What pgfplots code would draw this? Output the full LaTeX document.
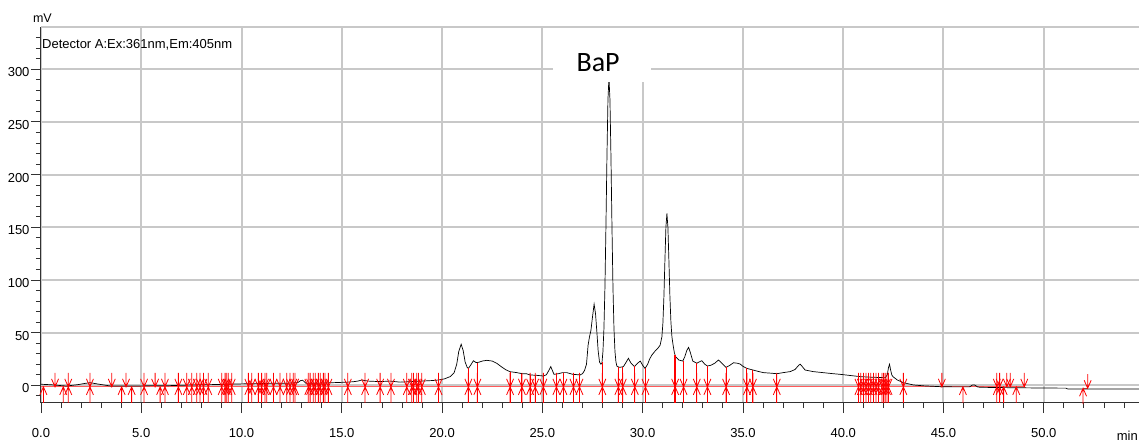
\documentclass[border=0pt]{standalone}
\usepackage{pgfplots}
\pgfplotsset{compat=1.18}
\usepackage{fontspec}
\setmainfont{Liberation Sans}
\newfontfamily\calibri{Carlito}
\definecolor{gridgray}{RGB}{200,200,200}
\definecolor{axdark}{RGB}{50,50,50}
\definecolor{mkred}{RGB}{255,0,0}
\definecolor{basered}{RGB}{255,90,90}
\pgfdeclareplotmark{dnar}{%
  \pgfpathmoveto{\pgfqpoint{0pt}{0pt}}\pgfpathlineto{\pgfqpoint{0pt}{14pt}}%
  \pgfpathmoveto{\pgfqpoint{-3.5pt}{8pt}}\pgfpathlineto{\pgfqpoint{0pt}{0pt}}\pgfpathlineto{\pgfqpoint{3.5pt}{8pt}}%
  \pgfusepathqstroke}
\pgfdeclareplotmark{upar}{%
  \pgfpathmoveto{\pgfqpoint{0pt}{0pt}}\pgfpathlineto{\pgfqpoint{0pt}{-16pt}}%
  \pgfpathmoveto{\pgfqpoint{-3.5pt}{-8pt}}\pgfpathlineto{\pgfqpoint{0pt}{0pt}}\pgfpathlineto{\pgfqpoint{3.5pt}{-8pt}}%
  \pgfusepathqstroke}
\pgfdeclareplotmark{bothar}{%
  \pgfpathmoveto{\pgfqpoint{0pt}{-16pt}}\pgfpathlineto{\pgfqpoint{0pt}{14pt}}%
  \pgfpathmoveto{\pgfqpoint{-3.5pt}{8pt}}\pgfpathlineto{\pgfqpoint{0pt}{0pt}}\pgfpathlineto{\pgfqpoint{3.5pt}{8pt}}%
  \pgfpathmoveto{\pgfqpoint{-3.5pt}{-8pt}}\pgfpathlineto{\pgfqpoint{0pt}{0pt}}\pgfpathlineto{\pgfqpoint{3.5pt}{-8pt}}%
  \pgfusepathqstroke}
\begin{document}
\begin{tikzpicture}
\begin{axis}[
  scale only axis, width=1098pt, height=376pt,
  xmin=0, xmax=54.75, ymin=-16.8, ymax=340,
  axis x line*=bottom, axis y line*=left,
  axis line style={axdark, line width=1pt},
  xtick={0,5,...,50}, ytick={0,50,...,300},
  minor xtick={0,1,...,54}, minor ytick={-10,0,...,330},
  tick align=outside, major tick length=10pt, minor tick length=5pt,
  tick style={axdark, line width=0.8pt},
  xmajorgrids, ymajorgrids, major grid style={gridgray, line width=2pt},
  /pgf/number format/assume math mode=true,
  tick label style={font=\fontsize{13}{13}\selectfont},
  yticklabel style={yshift=-3pt, xshift=2pt},
  xticklabel style={yshift=-12pt, /pgf/number format/.cd, fixed, fixed zerofill, precision=1},
  clip=false,
]
\coordinate (ll) at (rel axis cs:0,0);
\coordinate (ur) at (rel axis cs:1,1);
% red baseline
\addplot[basered, line width=1.2pt] coordinates {(0,-1.5) (49.03,-1.5)};
\addplot[basered, line width=1.2pt] coordinates {(51.96,-2.8) (52.19,-2.8)};
% chromatogram trace
\addplot[black, line width=0.7pt] table {
t v
0.00 1.0
0.50 0.5
1.00 -0.3
1.28 -0.7
1.80 0.5
2.20 1.8
2.44 2.5
2.90 1.0
3.44 -0.6
4.20 -0.6
4.94 -0.6
5.50 -0.3
6.27 -0.4
7.00 0.0
8.00 0.5
9.00 0.8
9.59 1.2
10.50 1.5
11.58 1.9
12.30 2.0
12.80 2.5
12.95 4.5
13.05 4.8
13.20 2.0
13.80 2.0
14.58 2.5
15.30 3.0
15.58 3.4
15.80 4.0
16.00 5.0
16.30 4.0
16.90 3.5
17.40 4.0
17.90 3.0
18.50 3.5
19.00 4.0
19.50 4.5
19.82 5.0
20.10 6.0
20.40 8.2
20.60 12.0
20.73 20.0
20.83 32.0
20.95 39.0
21.05 33.0
21.15 22.0
21.25 17.0
21.31 16.0
21.42 19.0
21.56 23.3
21.70 21.5
21.85 22.0
22.00 23.0
22.23 23.7
22.50 23.0
22.73 20.8
23.00 17.0
23.20 14.5
23.39 12.9
23.55 12.5
23.73 12.0
24.00 11.0
24.20 11.0
24.39 9.8
24.70 9.5
25.05 8.8
25.20 10.0
25.32 14.0
25.42 17.7
25.50 14.0
25.58 10.4
25.80 11.0
26.00 12.0
26.22 12.0
26.50 10.5
26.88 9.8
27.00 11.0
27.10 14.0
27.20 20.0
27.28 38.0
27.35 46.0
27.42 52.0
27.50 65.0
27.58 77.0
27.65 68.0
27.72 50.0
27.78 33.0
27.85 22.0
27.92 20.0
27.97 21.0
28.02 32.0
28.07 54.0
28.12 93.0
28.17 151.0
28.22 217.0
28.27 271.0
28.32 292.0
28.37 271.0
28.42 217.0
28.47 151.0
28.52 93.0
28.57 54.0
28.62 32.0
28.67 22.0
28.72 18.0
28.85 17.0
29.04 17.7
29.18 22.0
29.29 25.6
29.42 21.0
29.59 17.7
29.75 21.0
29.88 23.0
30.00 19.0
30.12 16.0
30.25 20.0
30.35 25.0
30.46 28.7
30.60 32.0
30.75 35.0
30.87 38.0
30.96 46.0
31.01 59.0
31.06 84.0
31.11 118.0
31.16 150.0
31.21 163.0
31.26 150.0
31.31 118.0
31.36 84.0
31.41 60.0
31.46 46.0
31.52 38.0
31.58 31.0
31.65 27.0
31.80 24.0
32.00 23.0
32.10 27.0
32.20 33.0
32.29 36.0
32.38 31.0
32.50 23.0
32.70 20.9
32.80 22.0
32.95 23.3
33.10 20.0
33.23 18.3
33.40 19.0
33.60 21.0
33.78 24.0
33.95 21.0
34.16 17.0
34.35 19.0
34.53 21.4
34.70 21.0
34.86 20.2
35.00 18.0
35.20 16.0
35.50 14.5
35.80 13.0
36.03 12.0
36.40 11.5
36.69 11.0
37.00 12.0
37.36 13.0
37.60 15.0
37.78 19.0
37.86 20.0
37.95 18.0
38.10 14.5
38.50 13.0
39.00 12.0
39.50 11.0
39.85 10.4
40.40 9.2
40.85 8.2
41.50 7.6
42.10 7.2
42.20 10.0
42.26 17.0
42.31 20.0
42.36 15.0
42.42 10.0
42.48 8.2
42.70 5.0
43.00 2.5
43.50 0.3
44.00 -0.5
44.84 -1.3
45.50 -1.5
46.30 -1.5
46.45 0.3
46.55 0.3
46.70 -1.5
46.83 -1.9
48.00 -2.2
49.00 -2.4
50.00 -2.6
51.10 -2.7
51.20 -3.5
54.75 -3.5
};
% drop lines
\addplot[mkred, line width=1pt, unbounded coords=jump] coordinates {
(21.31,-16.8) (21.31,16) (21.31,nan)
(21.76,-16.8) (21.76,21.5) (21.76,nan)
(23.39,-16.8) (23.39,12.9) (23.39,nan)
(23.98,-16.8) (23.98,11) (23.98,nan)
(24.39,-16.8) (24.39,9.8) (24.39,nan)
(24.64,-16.8) (24.64,9.5) (24.64,nan)
(25.05,-16.8) (25.05,8.8) (25.05,nan)
(25.70,-16.8) (25.70,10.7) (25.70,nan)
(26.05,-16.8) (26.05,12) (26.05,nan)
(26.55,-16.8) (26.55,10.4) (26.55,nan)
(26.85,-16.8) (26.85,9.9) (26.85,nan)
(27.99,-16.8) (27.99,22) (27.99,nan)
(28.79,-16.8) (28.79,17.5) (28.79,nan)
(29.01,-16.8) (29.01,17.6) (29.01,nan)
(29.61,-16.8) (29.61,17.9) (29.61,nan)
(30.14,-16.8) (30.14,16.2) (30.14,nan)
(32.04,-16.8) (32.04,23) (32.04,nan)
(32.70,-16.8) (32.70,20.9) (32.70,nan)
(33.23,-16.8) (33.23,18.3) (33.23,nan)
(34.16,-16.8) (34.16,17) (34.16,nan)
(35.20,-16.8) (35.20,16) (35.20,nan)
(35.50,-16.8) (35.50,14.5) (35.50,nan)
(36.69,-16.8) (36.69,11) (36.69,nan)
};
\addplot[mkred, line width=2.4pt] coordinates {(31.62,-16.8) (31.62,29)};
% integration markers
\addplot[only marks, mark=upar, mkred, mark options={line width=0.8pt}] table {
x y
0.12 -1.5
1.11 -1.5
4.02 -1.5
4.52 -1.5
5.94 -1.5
45.97 -1.5
48.00 -1.5
48.63 -1.5
51.96 -2.8
};
\addplot[only marks, mark=dnar, mkred, mark options={line width=0.8pt}] table {
x y
0.70 -1.5
3.53 -1.5
4.24 -1.5
5.69 -1.5
44.92 -1.5
48.16 -1.5
48.33 -1.5
49.03 -1.5
52.19 -2.8
};
\addplot[only marks, mark=bothar, mkred, mark options={line width=0.8pt}] table {
x y
1.36 -1.5
2.44 -1.5
5.14 -1.5
6.18 -1.5
6.85 -1.5
7.27 -1.5
7.52 -1.5
7.77 -1.5
7.93 -1.5
8.10 -1.5
8.34 -1.5
9.01 -1.5
9.18 -1.5
9.26 -1.5
9.34 -1.5
9.51 -1.5
10.34 -1.5
10.51 -1.5
10.84 -1.5
11.00 -1.5
11.17 -1.5
11.26 -1.5
11.59 -1.5
11.92 -1.5
12.25 -1.5
12.42 -1.5
12.58 -1.5
12.67 -1.5
13.33 -1.5
13.42 -1.5
13.58 -1.5
13.67 -1.5
13.83 -1.5
13.92 -1.5
14.08 -1.5
14.16 -1.5
14.33 -1.5
15.30 -1.5
16.16 -1.5
16.91 -1.5
17.45 -1.5
18.24 -1.5
18.49 -1.5
18.57 -1.5
18.74 -1.5
18.82 -1.5
18.99 -1.5
19.82 -1.5
21.31 -1.5
21.76 -1.5
23.39 -1.5
23.98 -1.5
24.39 -1.5
24.64 -1.5
25.05 -1.5
25.70 -1.5
26.05 -1.5
26.55 -1.5
26.85 -1.5
27.99 -1.5
28.79 -1.5
29.01 -1.5
29.61 -1.5
30.14 -1.5
31.62 -1.5
32.04 -1.5
32.70 -1.5
33.23 -1.5
34.16 -1.5
35.20 -1.5
35.50 -1.5
36.69 -1.5
40.76 -1.5
40.88 -1.5
41.01 -1.5
41.14 -1.5
41.26 -1.5
41.37 -1.5
41.51 -1.5
41.64 -1.5
41.76 -1.5
41.93 -1.5
42.01 -1.5
42.09 -1.5
42.18 -1.5
42.26 -1.5
43.00 -1.5
47.66 -1.5
47.80 -1.5
};
% BaP label on white box
\fill[white] (axis cs:25.55,287.5) rectangle (axis cs:30.42,340);
\node[font=\calibri\fontsize{28}{28}\selectfont, inner sep=0pt] at (axis cs:27.78,306.5) {BaP};
\draw[gridgray, line width=2pt] (rel axis cs:0,1) -- (rel axis cs:1,1);
\node[font=\fontsize{13}{13}\selectfont, anchor=base west, inner sep=0pt] at (axis cs:0.05,320) {Detector A:Ex:361nm,Em:405nm};
\node[font=\fontsize{12.5}{13}\selectfont, anchor=base, inner sep=0pt] at (axis cs:0.07,344) {mV};
\node[font=\fontsize{13}{13}\selectfont, anchor=base east, inner sep=0pt] at (axis cs:54.7,-52) {min};
\end{axis}
\pgfresetboundingbox
\path[use as bounding box] ([shift={(-41pt,-38pt)}]ll) rectangle ([shift={(0pt,27pt)}]ur);
\end{tikzpicture}
\end{document}
